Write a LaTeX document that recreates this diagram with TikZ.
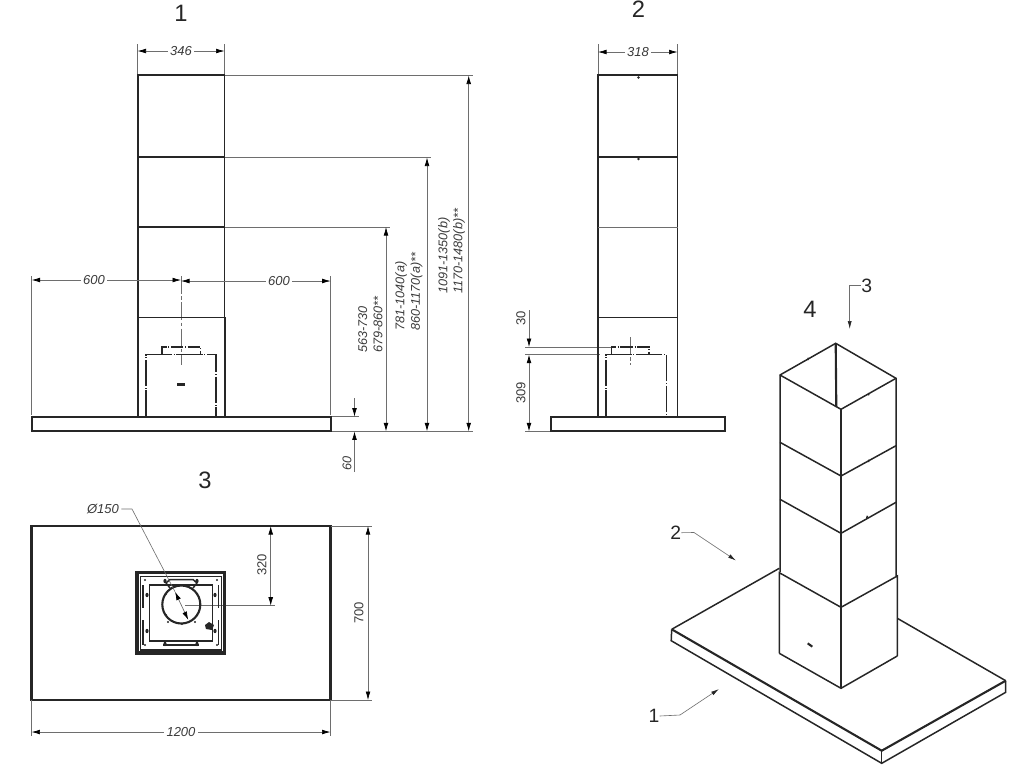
\documentclass[tikz,border=0pt]{standalone}
\usepackage{fontspec}
\setmainfont{Liberation Sans}
\usetikzlibrary{arrows.meta}
\definecolor{dimgray}{HTML}{6E6E6E}
\definecolor{dimtext}{HTML}{3A3A3A}
\tikzset{
	outline/.style={line width=0.85pt, color=black!85},
	fatline/.style={line width=1.2pt, color=black!85},
	hidden/.style={line width=0.8pt, color=black!85, dash pattern=on 15pt off 1pt on 0.5pt off 1pt},
	hiddenshort/.style={line width=0.8pt, color=black!85, dash pattern=on 7pt off 1pt on 0.5pt off 1pt},
	axisline/.style={line width=0.4pt, color=dimgray, dash pattern=on 10pt off 1.5pt on 2pt off 1.5pt},
	extline/.style={line width=0.4pt, color=dimgray},
	dimline/.style={line width=0.4pt, color=dimgray, >={Latex[length=1.7mm,width=.95mm,color=black]}},
	leader/.style={line width=0.35pt, color=dimgray, >={Latex[length=1.6mm,width=.8mm,color=black!85]}},
	dimlabel/.style={font=\fontsize{7.4}{8}\selectfont\itshape, text=dimtext, inner sep=1.2pt, fill=white},
	dimlabelup/.style={dimlabel, font=\fontsize{7.4}{8}\selectfont},
	sidelabel/.style={font=\fontsize{7.2}{8}\selectfont\itshape, text=dimtext, inner sep=0pt, rotate=90, anchor=west},
	viewlabel/.style={font=\fontsize{13.5}{15}\selectfont, text=black!85, inner sep=0pt},
	arrowlabel/.style={font=\fontsize{11}{12}\selectfont, text=black!85, inner sep=0pt},
}
\begin{document}
\begin{tikzpicture}[x=0.02cm, y=-0.02cm]
	\useasboundingbox (0,0) rectangle (1024,768);

	% front view
	\draw[extline] (137.5,44) -- (137.5,75) (224.5,44) -- (224.5,75);
	\draw[extline] (224.5,75.5) -- (473,75.5) (224.5,157.5) -- (431,157.5) (224.5,227) -- (390,227);
	\draw[extline] (331,431.3) -- (473,431.3) (331,416.7) -- (359,416.7);
	\draw[extline] (31.7,276) -- (31.7,415) (330.7,276) -- (330.7,415);
	\draw[axisline] (181,276) -- (181,365);
	\draw[outline] (138,416.7) -- (138,75) -- (224.5,75) -- (224.5,416.7);
	\draw[outline] (138,157) -- (224.5,157) (138,227) -- (224.5,227) (137.5,317.3) -- (225,317.3);
	\draw[outline] (137.5,317.3) -- (137.5,416.7) (225,317.3) -- (225,416.7);
	\draw[hidden] (146,416.7) -- (146,354.7) -- (215.8,354.7) -- (215.8,416.7);
	\draw[hiddenshort] (162,354.7) -- (162,347) -- (200.5,347) -- (200.5,354.7);
	\draw[fatline] (177,384.5) -- (185,384.5);
	\draw[fatline] (31.7,416.7) rectangle (330.7,431.3);
	\draw[dimline, <->] (137.5,51) -- (224.5,51);
	\draw[dimline, <->] (31.7,280) -- (181,280);
	\draw[dimline, <->] (181,281) -- (330.7,281);
	\draw[dimline, <->] (468.7,75.5) -- (468.7,431.3);
	\draw[dimline, <->] (427,157.5) -- (427,431.3);
	\draw[dimline, <->] (386,227) -- (386,431.3);
	\draw[dimline, ->] (354.5,398) -- (354.5,416.7);
	\draw[dimline, ->] (354.5,472) -- (354.5,431.3);
	\node[viewlabel] (viewone) at (181,13) {1};
	\node[dimlabel] (widthone) at (181,51) {346};
	\node[dimlabel] (reachleft) at (94,280) {600};
	\node[dimlabel] (reachright) at (279,281) {600};
	\node[sidelabel] (lowone) at (362.7,353) {563-730};
	\node[sidelabel] (lowtwo) at (378,353) {679-860**};
	\node[sidelabel] (midone) at (401,331) {781-1040(a)};
	\node[sidelabel] (midtwo) at (416.7,331) {860-1170(a)**};
	\node[sidelabel] (topone) at (444,294) {1091-1350(b)};
	\node[sidelabel] (toptwo) at (459,294) {1170-1480(b)**};
	\node[sidelabel, anchor=center] (plateheight) at (347,463) {60};

	% side view
	\draw[extline] (598,44) -- (598,75) (677.5,44) -- (677.5,75);
	\draw[extline] (525,347) -- (611,347) (525,354.7) -- (600,354.7) (525,431.3) -- (550,431.3);
	\draw[axisline] (630.7,337) -- (630.7,365);
	\draw[outline] (598,416.7) -- (598,75) -- (677.5,75) -- (677.5,416.7);
	\draw[outline] (598,157) -- (677.5,157) (598,317.3) -- (677.5,317.3);
	\draw[extline] (598,227) -- (677.5,227);
	\draw[hidden] (605.8,416.7) -- (605.8,354.7) -- (666.5,354.7) -- (666.5,416.7);
	\draw[hiddenshort] (611.5,354.7) -- (611.5,347) -- (649,347) -- (649,354.7);
	\foreach \y in {77.5,159}
		\fill[black!85] (638.5,\y) circle (1.4);
	\draw[fatline] (550.7,416.7) rectangle (725,431.3);
	\draw[dimline, <->] (598,52) -- (677.5,52);
	\draw[dimline, ->] (529,310) -- (529,347);
	\draw[dimline, <->] (529,354.7) -- (529,431.3);
	\node[viewlabel] (viewtwo) at (638.5,9) {2};
	\node[dimlabel] (widthtwo) at (638,52) {318};
	\node[dimlabelup, rotate=90, fill=none] (spigot) at (521,318) {30};
	\node[dimlabelup, rotate=90, fill=none] (motorheight) at (521,393) {309};

	% plan view
	\draw[fatline] (31.5,526) rectangle (330.5,700);
	\draw[extline] (331,526) -- (372,526) (331,700) -- (372,700);
	\draw[extline] (31.5,700) -- (31.5,736) (330.5,700) -- (330.5,736);
	\draw[extline] (185,605.7) -- (275,605.7);
	\draw[black!85, line width=1.9pt] (137,572.5) rectangle (224.7,653);
	\draw[outline] (140.7,576.7) rectangle (221.7,650);
	\draw[outline] (149.3,585) rectangle (212.7,641);
	\draw[fatline] (181.3,604.5) circle (19);
	\draw[outline] (166,583) -- (170,579.5) -- (193,579.5) -- (197,583);
	\draw[outline] (166,583) -- (170,588) (197,583) -- (193,588);
	\draw[outline] (163,645) -- (199,645);
	\foreach \x in {143,218.5}
		\draw[outline] (\x,585) -- (\x,608) (\x,620) -- (\x,645);
	\foreach \x/\y in {147/595, 147/631, 215/595, 215/631, 165/581, 197/581, 165/644, 197/644}
		\fill[black!85] (\x,\y) ellipse (1.6 and 2.2);
	\foreach \x/\y in {166/594, 197/594, 166/615, 197/615, 168/622, 182/624, 195/622, 145/580, 217/580, 145/645, 217/645}
		\fill[black!85] (\x,\y) circle (1.1);
	\fill[black!85] (205,625) -- (209,622) -- (214,625) -- (212,630) -- (206,629) -- cycle;
	\draw[dimline, <->] (175,591.7) -- (188.3,620);
	\draw[dimline, <->] (270.7,526) -- (270.7,605.7);
	\draw[dimline, <->] (368,526) -- (368,700);
	\draw[dimline, <->] (31.5,732) -- (330.5,732);
	\node[viewlabel] (viewthree) at (205,480) {3};
	\node[dimlabel, fill=none] (ductsize) at (103,509) {Ø150};
	\node[dimlabelup, rotate=90, fill=none] (ductoffset) at (262,565) {320};
	\node[dimlabelup, rotate=90, fill=none] (platedepth) at (359,613) {700};
	\node[dimlabel] (platewidth) at (181,732) {1200};
	\draw[leader] (ductsize.east) -- (132,509) -- (175,591.7);

	% iso view
	\draw[outline] (779.3,568.3) -- (671.7,629.3);
	\draw[outline] (1005.7,680.7) -- (897.3,618.3);
	\draw[fatline] (671.7,629.3) -- (881.7,750.7) -- (1005.7,680.7);
	\draw[outline] (671.7,629.3) -- (671.2,640.7) -- (881.7,763.3) -- (1005.7,692.3) -- (1005.7,680.7);
	\draw[outline] (881.7,750.7) -- (881.7,763.3);
	\draw[outline] (780,572) -- (780,375) -- (835.7,343.3) -- (896,378.3) -- (896,576);
	\draw[outline] (780,375) -- (841,409.3) -- (896,378.3);
	\draw[fatline] (835.7,343.3) -- (836.3,407);
	\draw[fatline] (841,409.3) -- (841,688.3);
	\draw[outline] (780,442.3) -- (841,476) -- (896,445.7);
	\draw[outline] (780,499.3) -- (841,533.3) -- (896,502.3);
	\draw[outline] (779.3,653.3) -- (779.3,572.7) -- (841,607.3) -- (897.3,576) -- (897.3,656);
	\draw[outline] (779.3,653.3) -- (841,688.3) -- (897.3,656);
	\foreach \x/\y in {807.7/360, 868.3/395.3, 868.3/462, 866.7/518}
		\draw[outline] (\x,\y) -- ++(0.8,-2.2);
	\draw[fatline] (807.7,643.3) -- (812.3,646.7);
	\node[viewlabel] (viewfour) at (810,309) {4};
	\node[arrowlabel] (arrowthree) at (866.7,285.7) {3};
	\node[arrowlabel] (arrowtwo) at (675.7,532.7) {2};
	\node[arrowlabel] (arrowone) at (654,716) {1};
	\coordinate (aimthree) at (849.7,329);
	\coordinate (aimtwo) at (736,560.5);
	\coordinate (aimone) at (719,689);
	\draw[leader, ->] (arrowthree.west) -- (849.7,285.7) -- (aimthree);
	\draw[leader, ->] (arrowtwo.east) -- (694,532.5) -- (aimtwo);
	\draw[leader, ->] (arrowone.east) -- (680,715) -- (aimone);
\end{tikzpicture}
\end{document}
